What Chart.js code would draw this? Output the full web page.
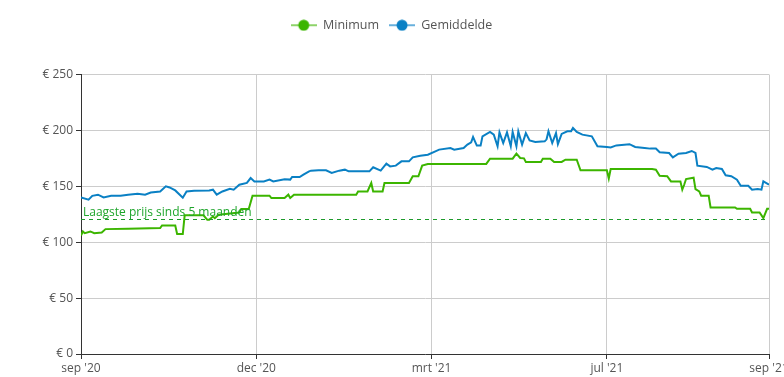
<!DOCTYPE html>
<html>
<head>
<meta charset="utf-8">
<script src="https://cdn.jsdelivr.net/npm/chart.js@4.4.1/dist/chart.umd.min.js"></script>
<style>
    html, body { margin: 0; padding: 0; background: #fff; overflow: hidden; }
</style>
</head>
<body>
<canvas id="grafiekprijs" width="784" height="377"></canvas>
<script>
// x = dagen sinds 1 sep 2020
const dagenGemiddelde = [0, 4, 6, 9, 12, 16, 21, 25, 30, 34, 37, 42, 45, 47, 50, 54, 56, 60, 68, 70, 72, 75, 79, 81, 84, 88, 90, 92, 97, 100, 102, 108, 111, 112, 116, 118, 121, 122, 126, 130, 133, 137, 140, 142, 153, 155, 159, 162, 164, 167, 170, 174, 176, 180, 184, 188, 190, 196, 198, 203, 205, 207, 208, 210, 212, 213, 217, 219, 221, 222, 224, 226, 228, 229, 231, 232, 234, 236, 238, 241, 246, 247, 248, 250, 252, 253, 255, 258, 260, 261, 263, 266, 271, 274, 279, 281, 284, 291, 294, 299, 302, 305, 307, 312, 314, 317, 321, 324, 326, 327, 332, 335, 337, 340, 342, 345, 348, 350, 354, 356, 359, 361, 362, 365];
const prijsGemiddelde = [140, 138, 141.5, 142.5, 140, 141.5, 141.5, 142.5, 143.4, 142.5, 144.5, 145.4, 150, 149, 146.3, 139.8, 145.4, 146, 146.3, 147, 142.5, 145.4, 147.8, 147, 151.4, 153, 157.4, 154.4, 154.4, 156, 154.4, 156.4, 156, 158.3, 158.3, 160.4, 163.4, 164, 164.3, 164.3, 162, 164, 164.9, 163.4, 163.4, 167, 164, 170.3, 167.8, 168.5, 172.3, 172.3, 175.9, 177.4, 178.3, 181.3, 182.8, 184.2, 182.8, 184.2, 187.3, 189.3, 194.1, 186.4, 186.4, 194.7, 198.6, 196.2, 185.8, 198.3, 188.7, 198.3, 185.8, 198.6, 185.8, 199, 187.3, 197.6, 191.1, 189.6, 190.2, 192, 199.2, 188.7, 197.6, 187.7, 196.9, 199.2, 199.2, 202.2, 198.6, 196.2, 194.7, 185.8, 185.2, 184.8, 186.6, 187.7, 185.2, 184.2, 183.7, 183.7, 180.4, 179.8, 175.9, 179.2, 179.8, 181.6, 179.8, 168.5, 167.3, 164.9, 166.4, 165.5, 159.8, 159, 155.9, 150.5, 150.5, 147, 147.5, 147, 154.4, 151.4];

const dagenMinimum = [0, 1, 2, 5, 7, 11, 13, 25, 42, 43, 50, 51, 54, 55, 65, 67, 68, 70, 71, 73, 84, 85, 89, 91, 100, 101, 108, 110, 111, 113, 146, 147, 152, 154, 155, 160, 161, 174, 176, 179, 181, 184, 215, 217, 229, 231, 233, 235, 236, 244, 245, 249, 251, 255, 257, 263, 265, 279, 280, 281, 303, 305, 307, 311, 313, 318, 319, 320, 321, 325, 326, 328, 329, 333, 334, 347, 348, 355, 356, 360, 362, 364, 365];
const prijsMinimum = [106, 109.6, 108.1, 109.6, 108, 108.7, 111.7, 112, 112.6, 115, 115, 107.3, 107.3, 124, 124, 120, 120, 123, 121.5, 124.6, 126.6, 129.6, 129.6, 141.6, 141.6, 139.5, 139.5, 142.5, 139.5, 142.5, 142.5, 145.4, 145.4, 153, 145.4, 145.4, 153, 153, 159, 159, 168.5, 170, 170, 174.7, 174.7, 179.2, 175.3, 175, 171.8, 171.8, 174.7, 174.7, 171.8, 171.8, 173.8, 173.8, 164.3, 164.3, 157, 165.5, 165.5, 164.9, 159.5, 159, 154.4, 154.4, 147, 151.4, 156.5, 157.7, 147.4, 145.4, 141.6, 141.6, 131.1, 131.1, 129.9, 129.9, 126.6, 126.6, 121.5, 129.9, 129.9];

const tickDagen = [0, 93, 186, 279, 365];
const tickLabels = ["sep '20", "dec '20", "mrt '21", "jul '21", "sep '21"];

const laagstePrijs = 121;
const laagsteTekst = 'Laagste prijs sinds 5 maanden';

const fonte = "'Open Sans', 'Noto Sans', sans-serif";

function maakPunten(dagen, prijzen) {
    let pts = [];
    for (let i = 0; i < dagen.length; i++) {
        pts.push({ x: dagen[i], y: prijzen[i] });
    }
    return pts;
}

// legenda-icoon: lijntje met bolletje
function legendaIcoon(lijnKleur, puntKleur) {
    const c = document.createElement('canvas');
    c.width = 26;
    c.height = 12;
    const g = c.getContext('2d');
    g.strokeStyle = lijnKleur;
    g.lineWidth = 2;
    g.beginPath();
    g.moveTo(0, 6);
    g.lineTo(26, 6);
    g.stroke();
    g.fillStyle = puntKleur;
    g.beginPath();
    g.arc(13, 6, 5.5, 0, Math.PI * 2);
    g.fill();
    return c;
}

// stippellijn met laagste prijs
const laagsteLijn = {
    id: 'laagsteLijn',
    afterDatasetsDraw(chart) {
        const ctx = chart.ctx;
        const area = chart.chartArea;
        const y = Math.round(chart.scales.y.getPixelForValue(laagstePrijs)) + 0.5;
        ctx.save();
        ctx.strokeStyle = '#1e9a2c';
        ctx.lineWidth = 1;
        ctx.setLineDash([4, 4]);
        ctx.beginPath();
        ctx.moveTo(area.left, y);
        ctx.lineTo(area.right, y);
        ctx.stroke();
        ctx.setLineDash([]);
        ctx.fillStyle = '#1fa52c';
        ctx.font = '12px ' + fonte;
        ctx.textBaseline = 'bottom';
        ctx.textAlign = 'left';
        ctx.fillText(laagsteTekst, area.left + 2, y - 1);
        ctx.restore();
    }
};

// extra ruimte onder de legenda
const legendaRuimte = {
    id: 'legendaRuimte',
    afterInit(chart) {
        const fitOrig = chart.legend.fit;
        chart.legend.fit = function () {
            fitOrig.call(this);
            this.height += 33;
        };
    }
};

window.onload = () => {
    new Chart(document.getElementById('grafiekprijs'), {
        type: 'line',
        data: {
            datasets: [{
                label: 'Minimum',
                data: maakPunten(dagenMinimum, prijsMinimum),
                borderColor: '#3cb500',
                borderWidth: 2,
                pointRadius: 0,
                pointStyle: legendaIcoon('#8ed36a', '#3cb500'),
                tension: 0
            }, {
                label: 'Gemiddelde',
                data: maakPunten(dagenGemiddelde, prijsGemiddelde),
                borderColor: '#0a80c4',
                borderWidth: 2,
                pointRadius: 0,
                pointStyle: legendaIcoon('#68b0dc', '#0a80c4'),
                tension: 0
            }]
        },
        options: {
            responsive: false,
            animation: false,
            layout: {
                autoPadding: false,
                padding: { left: 14, right: 15, top: 9, bottom: 0 }
            },
            plugins: {
                tooltip: { enabled: false },
                legend: {
                    labels: {
                        usePointStyle: true,
                        pointStyleWidth: 26,
                        color: '#555',
                        padding: 10,
                        font: { family: fonte, size: 12.5 }
                    }
                }
            },
            scales: {
                x: {
                    type: 'linear',
                    min: 0,
                    max: 365,
                    afterBuildTicks: (scale) => {
                        scale.ticks = tickDagen.map(d => ({ value: d }));
                    },
                    afterFit: (scale) => {
                        scale.height = 23;
                        // laatste label mag buiten beeld vallen
                        scale.paddingLeft = 0;
                        scale.paddingRight = 0;
                    },
                    ticks: {
                        autoSkip: false,
                        maxRotation: 0,
                        padding: 2,
                        color: '#555',
                        font: { family: fonte, size: 12 },
                        callback: (v) => {
                            const i = tickDagen.indexOf(v);
                            return i >= 0 ? tickLabels[i] : '';
                        }
                    },
                    grid: { color: '#cccccc', tickColor: '#333', tickLength: 5 },
                    border: { color: '#333', width: 1 }
                },
                y: {
                    min: 0,
                    max: 250,
                    afterFit: (scale) => { scale.width = 67; },
                    ticks: {
                        stepSize: 50,
                        padding: 3,
                        color: '#555',
                        font: { family: fonte, size: 12 },
                        callback: (v) => '€ ' + v
                    },
                    grid: { color: '#cccccc', tickColor: '#333', tickLength: 5 },
                    border: { color: '#333', width: 1 }
                }
            }
        },
        plugins: [laagsteLijn, legendaRuimte]
    });
};
</script>
</body>
</html>
